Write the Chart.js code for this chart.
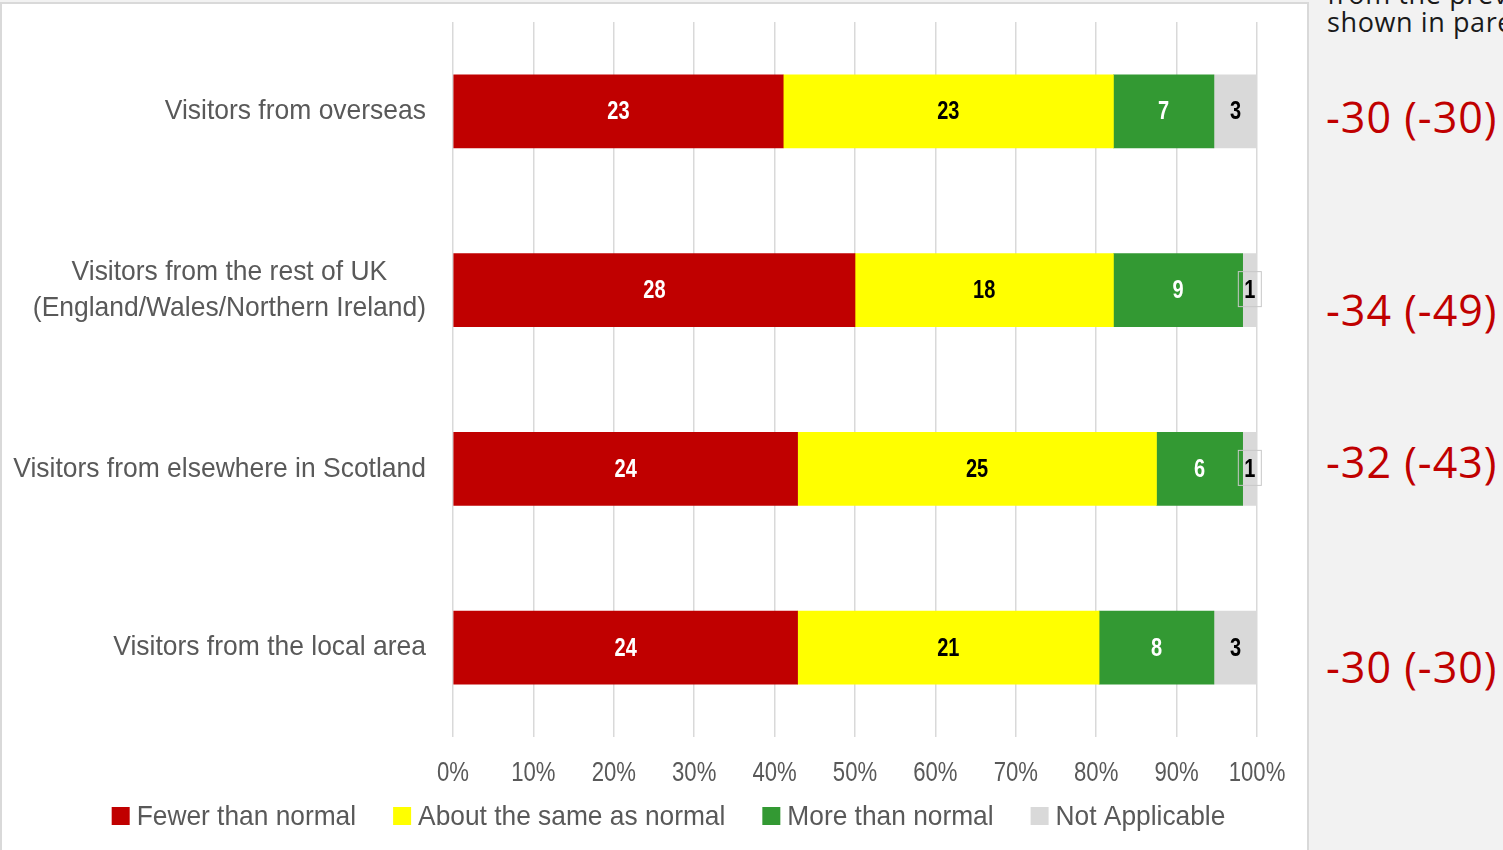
<!DOCTYPE html>
<html>
<head>
<meta charset="utf-8">
<script src="https://cdn.jsdelivr.net/npm/chart.js@4/dist/chart.umd.min.js"></script>
<style>
  body { margin: 0; background: #f2f2f2; width: 1503px; height: 850px; overflow: hidden; position: relative; }
  #box { position: absolute; left: 0; top: 2px; width: 1305px; height: 848px; background: #fff;
         border: 2px solid #d9d9d9; border-bottom: none; }
  #side { position: absolute; left: 1309px; top: 0; width: 194px; height: 850px; overflow: hidden;
          font-family: "Open Sans", sans-serif; white-space: nowrap; }
  #side .note { position: absolute; left: 18px; font-size: 27px; color: #1a1a1a; line-height: 28px; letter-spacing: 0.6px; }
  #side .net { position: absolute; left: 17px; font-size: 43px; color: #c00000; line-height: 50px; letter-spacing: 1px; }
</style>
</head>
<body>
<div id="box"><canvas id="chart"></canvas></div>
<div id="side">
  <div class="note" style="top:-20px">from the previous survey<br>shown in parentheses</div>
  <div class="net" style="top:92px">-30 (-30)</div>
  <div class="net" style="top:285px">-34 (-49)</div>
  <div class="net" style="top:437px">-32 (-43)</div>
  <div class="net" style="top:642px">-30 (-30)</div>
</div>
<script>
const categories = [
  'Visitors from overseas',
  ['Visitors from the rest of UK', '(England/Wales/Northern Ireland)'],
  'Visitors from elsewhere in Scotland',
  'Visitors from the local area'
];
const fewer = [23, 28, 24, 24];
const same = [23, 18, 25, 21];
const more = [7, 9, 6, 8];
const notApplicable = [3, 1, 1, 3];
const xTicks = [0, 10, 20, 30, 40, 50, 60, 70, 80, 90, 100];

const grey = '#595959';
const FONT = '"Liberation Sans", Arial, sans-serif';

// each row is shown as share of its own total
const totals = categories.map((c, i) => fewer[i] + same[i] + more[i] + notApplicable[i]);
const pct = arr => arr.map((v, i) => v / totals[i] * 100);

const series = [
  { label: 'Fewer than normal', counts: fewer, color: '#c00000', text: '#ffffff' },
  { label: 'About the same as normal', counts: same, color: '#ffff00', text: '#000000' },
  { label: 'More than normal', counts: more, color: '#339933', text: '#ffffff' },
  { label: 'Not Applicable', counts: notApplicable, color: '#d9d9d9', text: '#000000' }
];

// Liberation Sans squeezed sideways stands in for a narrow face
function narrowWidth(ctx, txt, sq) {
  return ctx.measureText(txt).width * sq;
}

function narrowText(ctx, txt, x, y, align, sq) {
  ctx.save();
  ctx.translate(x, y);
  ctx.scale(sq, 1);
  ctx.textAlign = align;
  ctx.fillText(txt, 0, 0);
  ctx.restore();
}

// counts written in the middle of each segment
const segmentLabels = {
  id: 'segmentLabels',
  afterDatasetsDraw(chart) {
    const ctx = chart.ctx;
    const sq = 0.8;
    ctx.save();
    ctx.font = 'bold 25px ' + FONT;
    ctx.textBaseline = 'middle';
    chart.data.datasets.forEach((ds, di) => {
      chart.getDatasetMeta(di).data.forEach((bar, i) => {
        const txt = String(series[di].counts[i]);
        const left = Math.min(bar.x, bar.base), right = Math.max(bar.x, bar.base);
        const cx = (left + right) / 2;
        if (right - left < narrowWidth(ctx, txt, sq) + 8) {
          ctx.strokeStyle = '#c8c8c8';
          ctx.lineWidth = 1;
          ctx.strokeRect(cx - 11.5, bar.y - 18.5, 23, 35);
        }
        ctx.fillStyle = series[di].text;
        narrowText(ctx, txt, cx, bar.y + 1, 'center', sq);
      });
    });
    ctx.restore();
  }
};

// category names, percent ticks and the legend row
const axisText = {
  id: 'axisText',
  afterDraw(chart) {
    const ctx = chart.ctx;
    const area = chart.chartArea;
    const y = chart.scales.y;
    const x = chart.scales.x;
    ctx.save();
    ctx.fillStyle = grey;
    ctx.textBaseline = 'middle';

    // category block right aligned, its lines centred within the block
    ctx.font = '28px ' + FONT;
    const catSq = 0.945;
    const right = area.left - 27;
    categories.forEach((c, i) => {
      const lines = Array.isArray(c) ? c : [c];
      const blockW = Math.max(...lines.map(l => narrowWidth(ctx, l, catSq)));
      const cy = y.getPixelForTick(i);
      lines.forEach((l, k) => {
        narrowText(ctx, l, right - blockW / 2, cy + (k - (lines.length - 1) / 2) * 36, 'center', catSq);
      });
    });

    ctx.font = '27px ' + FONT;
    x.ticks.forEach(t => {
      narrowText(ctx, t.value + '%', x.getPixelForValue(t.value), area.bottom + 37, 'center', 0.82);
    });

    // legend: square key, small gap, label; row centred under the chart
    ctx.font = '28px ' + FONT;
    const legSq = 0.94;
    const box = 18, gap = 7, spacing = 37;
    const items = chart.data.datasets.map(ds => ({ text: ds.label, color: ds.backgroundColor,
      w: box + gap + narrowWidth(ctx, ds.label, legSq) }));
    const total = items.reduce((s, it) => s + it.w, 0) + spacing * (items.length - 1);
    let lx = 666.5 - total / 2;
    const ly = area.bottom + 79;
    items.forEach(it => {
      ctx.fillStyle = it.color;
      ctx.fillRect(lx, ly - box / 2, box, box);
      ctx.fillStyle = grey;
      narrowText(ctx, it.text, lx + box + gap, ly + 1, 'left', legSq);
      lx += it.w + spacing;
    });
    ctx.restore();
  }
};

new Chart(document.getElementById('chart'), {
  type: 'bar',
  data: {
    labels: categories,
    datasets: series.map(s => ({
      label: s.label,
      data: pct(s.counts),
      backgroundColor: s.color,
      barThickness: 73
    }))
  },
  options: {
    indexAxis: 'y',
    responsive: true,
    maintainAspectRatio: false,
    animation: false,
    layout: { padding: { top: 18, right: 50, left: 78, bottom: 71 } },
    scales: {
      x: {
        stacked: true,
        min: 0,
        max: 100,
        afterBuildTicks: s => { s.ticks = xTicks.map(v => ({ value: v })); },
        afterFit: s => { s.height = 44; },
        ticks: { display: false },
        grid: { color: '#d9d9d9', lineWidth: 1.5, drawTicks: false },
        border: { display: false }
      },
      y: {
        stacked: true,
        afterFit: s => { s.width = 373; },
        ticks: { display: false },
        grid: { display: false },
        border: { display: false }
      }
    },
    plugins: {
      legend: { display: false },
      tooltip: { enabled: false }
    }
  },
  plugins: [segmentLabels, axisText]
});
</script>
</body>
</html>
